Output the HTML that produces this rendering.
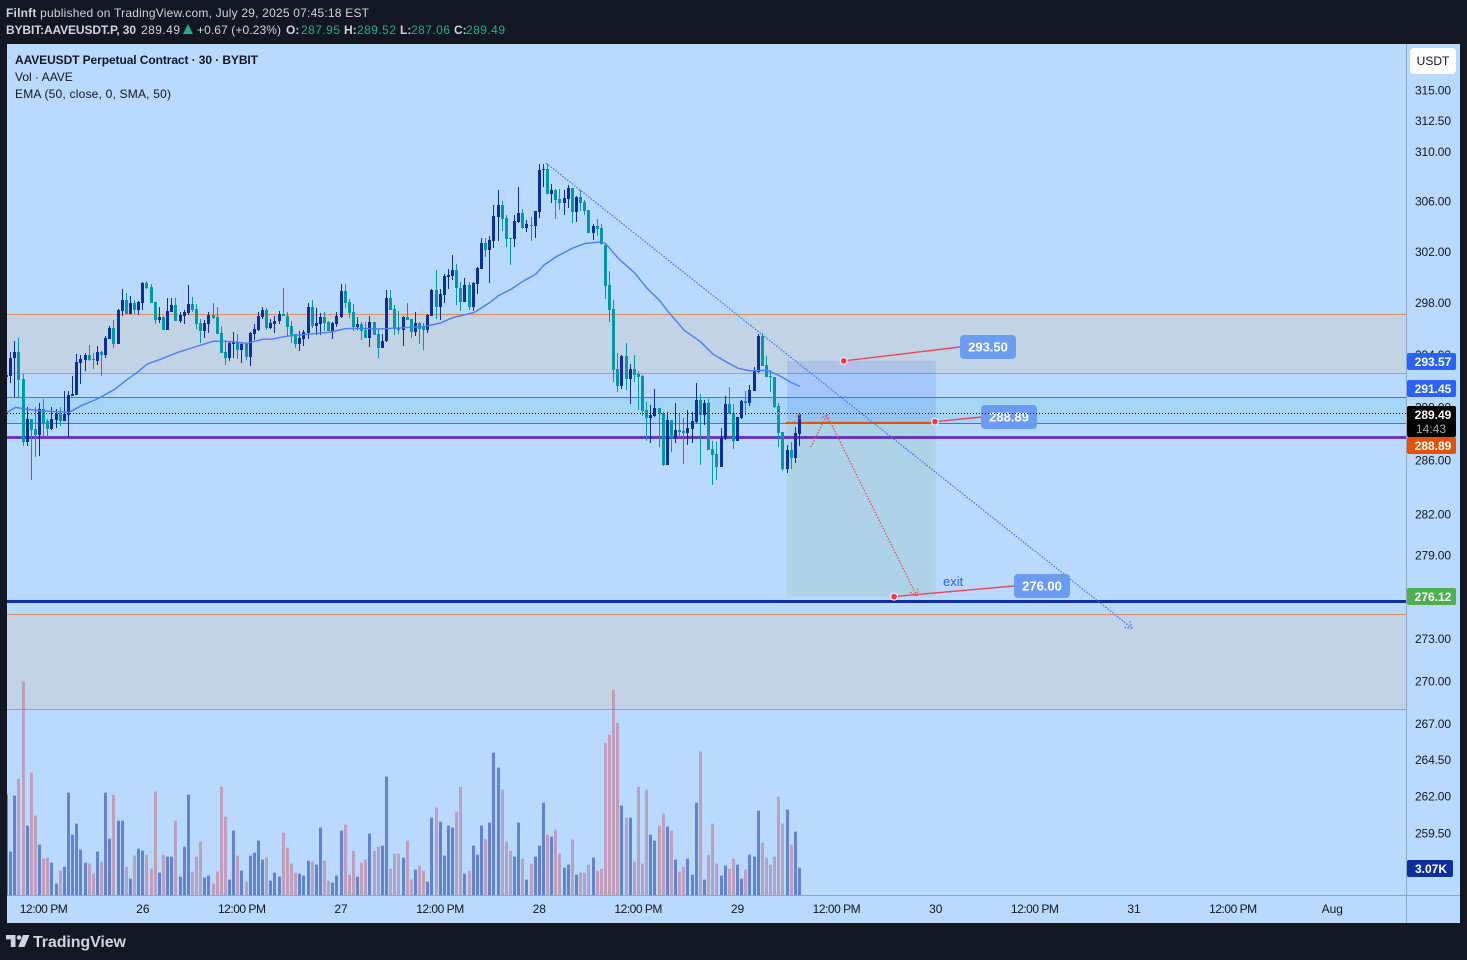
<!DOCTYPE html>
<html lang="en">
<head>
<meta charset="utf-8">
<title>AAVEUSDT Perpetual Contract chart</title>
<style>
html,body{margin:0;padding:0;background:#131722;width:1467px;height:960px;overflow:hidden}
svg{display:block;font-family:"Liberation Sans",Arial,sans-serif}
text{font-size:12px}
</style>
</head>
<body>
<svg id="root" width="1467" height="960" viewBox="0 0 1467 960" xmlns="http://www.w3.org/2000/svg">
  <defs><clipPath id="plot-clip"><rect x="7" y="44" width="1399" height="851"/></clipPath></defs>
  <rect x="0" y="0" width="1467" height="960" fill="#131722"/>
  <g>
    <text x="6" y="17" fill="#d1d4dc" textLength="363"><tspan font-weight="bold">Filnft</tspan> published on TradingView.com, July 29, 2025 07:45:18 EST</text>
    <text x="6" y="34" fill="#d1d4dc" font-weight="bold" textLength="130">BYBIT:AAVEUSDT.P, 30</text>
    <text x="141" y="34" fill="#d1d4dc" textLength="39">289.49</text>
    <path d="M183 34l5-10 5 10z" fill="#22ab94"/>
    <text x="197" y="34" fill="#d1d4dc" textLength="84">+0.67 (+0.23%)</text>
    <text x="286" y="34" fill="#d1d4dc" font-weight="bold">O:</text>
    <text x="301" y="34" fill="#22ab94" textLength="39">287.95</text>
    <text x="344" y="34" fill="#d1d4dc" font-weight="bold">H:</text>
    <text x="357" y="34" fill="#22ab94" textLength="39">289.52</text>
    <text x="400" y="34" fill="#d1d4dc" font-weight="bold">L:</text>
    <text x="411" y="34" fill="#22ab94" textLength="39">287.06</text>
    <text x="454" y="34" fill="#d1d4dc" font-weight="bold">C:</text>
    <text x="466" y="34" fill="#22ab94" textLength="39">289.49</text>
  </g>
  <rect x="7" y="44" width="1453" height="879" fill="#b9d9fe"/>
  <g id="zones"></g>
  <g id="position"></g>
  <g id="levels"></g>
  <g id="volumes" clip-path="url(#plot-clip)"></g>
  <g id="candles" clip-path="url(#plot-clip)"></g>
  <path id="ema" fill="none" stroke="#4a7ef5" stroke-width="1.4" clip-path="url(#plot-clip)"/>
  <g id="drawings"></g>
  <line id="last-line" stroke="#000" stroke-width="1" stroke-dasharray="1 2"/>
  <g>
    <text x="15" y="64" fill="#131722" font-weight="bold" textLength="243">AAVEUSDT Perpetual Contract · 30 · BYBIT</text>
    <text x="15" y="81" fill="#131722">Vol · AAVE</text>
    <text x="15" y="98" fill="#131722" textLength="156">EMA (50, close, 0, SMA, 50)</text>
  </g>
  <line x1="1406.5" y1="44" x2="1406.5" y2="923" stroke="#8fa8c6"/>
  <line x1="7" y1="895.5" x2="1460" y2="895.5" stroke="#8fa8c6"/>
  <g id="price-axis"></g>
  <g id="time-axis"></g>
  <g>
    <rect x="1407" y="353" width="49" height="17" rx="2" fill="#2962ff"/>
    <text x="1433" y="366" fill="#fff" font-weight="bold" text-anchor="middle">293.57</text>
    <rect x="1407" y="380" width="49" height="17" rx="2" fill="#2962ff"/>
    <text x="1433" y="393" fill="#fff" font-weight="bold" text-anchor="middle">291.45</text>
    <rect x="1407" y="406" width="49" height="31" rx="2" fill="#000"/>
    <text x="1433" y="419" fill="#fff" font-weight="bold" text-anchor="middle">289.49</text>
    <text x="1431" y="433" fill="#aaa" text-anchor="middle">14:43</text>
    <rect x="1407" y="437" width="49" height="17" rx="2" fill="#e65100"/>
    <text x="1433" y="450" fill="#fff" font-weight="bold" text-anchor="middle">288.89</text>
    <rect x="1407" y="588" width="49" height="17" rx="2" fill="#4caf50"/>
    <text x="1433" y="601" fill="#fff" font-weight="bold" text-anchor="middle">276.12</text>
    <rect x="1407" y="860" width="46" height="17" rx="2" fill="#0d2f9b"/>
    <text x="1431" y="873" fill="#fff" font-weight="bold" text-anchor="middle">3.07K</text>
  </g>
  <g>
    <rect x="1410" y="48" width="46" height="26" rx="4" fill="#fff"/>
    <text x="1433" y="65" fill="#131722" text-anchor="middle">USDT</text>
  </g>
  <g>
    <path d="M6 935h9.5v12h-4.7v-7.6H6zM23 935h6.5l-5 12h-6.300z" fill="#d1d4dc"/>
    <circle cx="19" cy="937.500" r="2.300" fill="#d1d4dc"/>
    <text x="33" y="947" fill="#d1d4dc" font-weight="bold" textLength="93" style="font-size:16px">TradingView</text>
  </g>
</svg>
<script>
const opens=[
292.29,292.36,293.74,294.20,292.14,287.34,289.07,288.31,287.85,289.84,
288.92,288.31,289.00,289.51,288.92,289.38,290.83,290.91,293.36,293.59,
293.97,293.67,293.51,294.20,293.97,295.20,296.04,294.81,297.34,298.18,
297.11,297.95,297.41,297.95,299.56,299.25,298.03,296.65,296.88,295.88,
297.26,297.80,296.57,296.95,297.18,297.87,297.49,296.42,295.81,296.34,
297.03,296.88,295.65,294.20,293.74,294.81,294.97,294.35,294.81,293.82,
295.58,295.88,296.88,297.41,296.04,296.34,296.57,297.14,296.98,296.20,
295.57,294.78,295.18,295.65,297.69,296.20,296.35,296.91,296.51,295.80,
296.35,296.91,298.87,298.08,297.30,296.12,296.35,295.88,295.25,296.51,
295.57,294.47,295.02,298.40,297.53,296.04,295.88,296.91,296.75,295.73,
296.43,296.12,295.88,296.98,298.95,297.69,298.63,299.97,300.05,300.52,
299.18,298.08,299.34,297.69,299.42,300.60,302.64,302.09,302.80,304.77,
305.71,304.69,303.04,302.96,304.37,305.08,303.90,304.11,303.98,305.16,
308.46,308.54,306.57,306.89,306.18,305.87,306.18,307.04,305.16,306.34,
305.94,305.32,303.43,303.98,303.90,302.55,299.34,297.50,292.91,291.61,
293.91,292.15,292.91,292.53,292.38,289.78,289.17,289.32,289.93,289.55,
285.65,289.01,287.64,288.25,288.17,288.02,288.32,288.86,290.54,289.39,
290.31,286.87,286.49,285.49,287.56,290.24,289.55,287.41,289.17,290.47,
290.31,291.23,292.68,295.44,293.22,292.38,292.30,290.08,288.09,285.34,
286.79,286.18,287.95];
const highs=[
292.44,294.20,295.04,295.27,292.52,289.97,289.07,289.97,290.27,290.60,
289.07,289.97,289.84,289.97,291.22,291.22,292.36,294.05,293.97,294.12,
294.74,294.12,294.66,294.28,295.42,296.19,296.65,297.49,299.10,298.79,
298.48,298.18,298.10,299.63,299.71,299.48,298.03,297.64,296.95,298.33,
298.33,298.33,297.26,297.41,299.40,298.41,297.87,296.73,296.65,297.26,
297.95,297.64,296.19,295.12,294.97,295.73,295.58,294.97,294.89,295.73,
296.34,297.26,297.64,297.57,296.73,296.95,297.34,299.18,297.27,296.59,
295.57,295.80,295.88,298.01,298.24,297.61,297.22,297.30,296.59,296.51,
297.30,299.42,299.42,298.32,297.93,296.91,296.51,296.51,296.98,296.51,
295.96,295.57,298.95,298.95,297.85,297.38,296.98,298.01,296.75,297.30,
296.51,296.43,297.14,299.03,300.52,299.03,300.21,300.60,301.70,300.99,
299.58,299.89,299.58,299.58,300.76,303.04,303.04,303.19,305.71,306.89,
306.02,304.92,303.04,304.92,307.12,305.39,304.53,304.77,305.24,309.01,
309.01,309.01,307.36,306.97,306.97,306.89,307.28,307.04,306.42,306.89,
306.10,305.32,304.14,304.61,304.14,302.68,300.49,298.19,294.14,293.98,
294.90,293.30,293.98,292.76,292.45,290.39,290.16,291.38,289.93,289.62,
289.62,289.01,290.31,289.55,289.17,289.78,289.62,291.84,291.00,290.54,
290.62,287.41,287.33,288.40,290.85,291.54,290.24,289.24,290.54,291.23,
291.69,293.07,295.59,295.67,293.91,292.84,292.30,290.31,288.09,287.10,
287.33,288.48,289.52];
const lows=[
292.29,291.83,290.76,290.76,287.03,287.09,284.49,286.27,286.32,287.75,
287.75,288.23,288.41,288.57,288.92,287.75,290.83,290.91,291.75,292.70,
293.51,292.90,293.16,292.36,293.74,295.20,294.51,294.81,296.95,297.11,
297.11,297.11,297.03,297.41,299.10,297.95,296.34,296.42,295.88,295.88,
297.26,296.57,296.42,296.34,297.03,297.26,295.96,294.89,295.27,295.65,
296.73,295.58,294.12,293.21,293.51,293.74,293.67,293.36,293.59,293.13,
295.12,295.81,296.73,295.88,295.96,295.65,296.34,296.93,295.44,294.91,
294.47,294.23,294.63,295.18,296.04,295.49,295.52,295.80,295.80,295.18,
296.12,296.83,297.61,296.83,295.80,295.88,295.10,295.25,294.55,295.49,
293.76,294.47,294.94,297.46,295.49,295.57,294.63,296.67,295.25,295.41,
294.78,294.31,295.65,296.98,296.75,296.67,298.01,299.03,299.73,297.85,
297.38,298.08,297.46,297.38,298.71,300.60,301.54,299.50,302.25,302.80,
303.66,302.33,300.91,302.33,304.29,303.82,303.51,302.80,303.04,304.69,
307.12,306.57,305.87,304.61,305.32,304.92,305.47,304.29,304.37,305.24,
304.92,303.43,302.88,303.19,302.49,298.27,296.51,291.92,291.15,291.38,
291.31,290.24,291.92,289.78,289.32,287.41,287.25,289.24,286.95,285.57,
285.65,286.64,287.25,287.64,285.72,287.10,287.25,288.78,285.65,288.63,
286.79,284.12,284.50,285.49,287.48,289.47,286.87,287.41,289.09,289.39,
290.08,291.23,292.61,293.14,292.30,291.15,289.93,286.95,285.19,285.03,
285.34,285.80,287.06];
const closes=[
292.44,293.74,294.20,292.06,287.34,289.07,288.23,287.85,289.84,288.77,
288.31,289.07,289.46,288.92,289.46,290.91,290.99,293.44,293.67,293.97,
293.59,293.62,294.20,293.97,295.27,296.04,294.81,297.41,298.18,297.11,
297.95,297.41,298.03,299.56,299.17,297.95,296.65,296.88,295.88,297.34,
297.80,296.57,297.03,297.26,297.87,297.41,296.34,295.81,296.42,297.03,
296.80,295.58,294.12,293.74,294.89,294.97,294.35,294.81,293.82,295.65,
295.96,296.95,297.41,296.04,296.42,296.57,297.11,296.93,296.12,295.49,
294.78,295.25,295.73,297.69,296.20,296.43,296.91,296.43,295.80,296.43,
296.98,298.87,298.01,297.22,296.12,296.35,295.80,295.25,296.51,295.49,
294.47,295.02,298.40,297.46,295.96,295.88,296.91,296.67,295.73,296.43,
295.96,295.88,297.06,298.95,297.69,298.71,300.05,300.13,300.52,299.11,
298.08,299.34,297.69,299.50,300.68,302.64,302.09,302.88,304.84,305.71,
304.61,302.96,302.98,304.45,305.08,303.90,304.14,304.06,305.24,308.46,
308.54,306.57,306.89,306.10,305.87,306.26,307.04,305.16,306.34,305.87,
305.24,303.43,303.98,303.82,302.56,299.26,297.43,292.84,291.61,293.91,
292.15,292.91,292.45,292.30,289.70,289.17,289.39,289.93,289.47,285.65,
289.01,287.64,288.25,288.09,288.02,288.40,288.94,290.54,289.39,290.31,
286.79,286.41,285.49,287.64,290.24,289.47,287.41,289.24,290.47,290.31,
291.31,292.76,295.44,293.14,292.30,292.30,290.01,288.02,285.34,286.79,
286.18,288.02,289.49];
const volumesK=[
11.29,4.88,11.18,13.09,24.00,7.80,13.76,8.93,5.66,4.09,
4.20,3.64,1.28,2.74,3.19,11.51,6.79,8.03,5.10,3.64,
3.53,2.40,4.88,3.75,11.51,6.34,11.29,8.36,8.36,3.19,
1.84,4.43,5.21,4.99,4.54,2.96,11.63,2.51,4.54,4.31,
4.31,8.36,2.06,5.44,11.29,2.63,4.31,6.00,1.95,2.18,
1.28,2.63,12.19,8.81,1.73,7.24,4.43,2.74,1.50,4.43,
4.76,6.11,3.98,4.20,1.61,2.51,2.06,7.01,5.33,3.53,
2.51,2.40,2.18,3.86,3.75,3.41,7.58,3.86,1.61,1.39,
2.18,7.24,7.91,2.29,4.99,2.06,3.64,3.98,6.90,4.99,
5.44,5.55,13.31,2.96,4.65,4.65,4.20,6.11,1.73,2.85,
3.30,2.74,1.50,8.70,9.83,8.25,4.43,7.80,7.58,9.38,
12.19,2.40,2.74,5.55,4.54,7.80,6.34,8.14,16.01,14.33,
11.85,6.00,4.99,4.31,8.14,4.09,1.73,3.53,4.31,5.55,
10.39,6.79,6.56,7.35,4.65,3.08,3.41,6.23,2.29,2.51,
2.51,3.41,4.20,2.74,2.96,17.14,18.04,23.10,19.39,10.05,
8.70,8.70,3.75,12.19,3.53,11.85,6.79,6.11,7.80,9.15,
7.69,7.24,3.98,2.63,3.19,4.09,2.29,10.39,16.13,1.73,
4.54,8.03,3.53,2.18,3.30,2.96,4.09,3.41,1.84,2.85,
4.54,4.31,9.49,5.89,4.20,3.41,4.31,11.06,8.03,9.60,
5.66,7.13,3.07];
const emaBars=[0,2,4,8,12,15,18,22,26,29,32,34,37,41,46,50,54,58,62,64,68,72,78,82,86,90,95,101,105,108,113,117,119,122,125,128,130,133,137,140,144,145,148,152,155,158,160,164,168,171,174,177,180,184,187,190,192];
const emaValues=[289.59,289.97,289.87,289.71,289.64,289.59,290.10,290.63,291.32,292.06,292.75,293.28,293.61,294.12,294.63,295.02,294.99,294.86,295.17,295.17,295.41,295.54,295.70,295.99,296.01,295.96,296.04,296.15,296.43,296.85,297.22,298.03,298.55,299.03,299.68,300.21,300.94,301.60,302.28,302.64,302.77,302.60,301.46,300.31,299.11,298.17,297.33,295.85,294.95,294.01,293.45,292.94,292.74,292.79,292.38,291.84,291.56];
const priceTicks=[315,312.5,310,306,302,298,294,290,286,282,279,273,270,267,264.5,262,259.5];
const timeBars=[9,33,57,81,105,129,153,177,201,225,249,273,297,321];
const timeLabels=["12:00 PM","26","12:00 PM","27","12:00 PM","28","12:00 PM","29","12:00 PM","30","12:00 PM","31","12:00 PM","Aug"];
const lastPrice=289.49;
const zoneUpper=[297.08,292.54];
const zoneLower=[274.73,268.00];
const bandLevels=[290.71,288.75];
const purpleLevel=287.67;
const navyLevel=275.65;
const positionBars=[189.0,225.0];
const positionPrices=[293.50,288.80,276.00];

const NS='http://www.w3.org/2000/svg';
const X0=6.54,BAR=4.13,Y0=90,LOGK=3833,TOP=315,VOLBASE=895,VOLK=8.889,PLOTL=7,PLOTR=1406;
function xScale(i){return X0+BAR*i;}
function yScale(p){return Y0+LOGK*Math.log(TOP/p);}
function vScale(v){return v*VOLK;}
function crisp(y){return Math.floor(y)+0.5;}
function make(tag,parent,attrs){const el=document.createElementNS(NS,tag);for(const k in attrs)el.setAttribute(k,attrs[k]);parent.appendChild(el);return el;}
const gZones=document.getElementById('zones'),gPos=document.getElementById('position'),gLevels=document.getElementById('levels'),gVol=document.getElementById('volumes'),gCandles=document.getElementById('candles'),gDraw=document.getElementById('drawings'),gPrice=document.getElementById('price-axis'),gTime=document.getElementById('time-axis');
let el;

/* zones */
[zoneUpper,zoneLower].forEach(function(z){
  const a=crisp(yScale(z[0])),b=crisp(yScale(z[1]));
  el=make('rect',gZones,{x:PLOTL,y:a,width:PLOTR-PLOTL,height:b-a,fill:'#c1d3e5'});
  
  
  z.forEach(function(p){
    el=make('line',gZones,{x1:PLOTL,x2:PLOTR,y1:crisp(yScale(p)),y2:crisp(yScale(p)),stroke:'#e08c66',"stroke-width":1});
    
    
  });
});
const bandA=crisp(yScale(bandLevels[0])),bandB=crisp(yScale(bandLevels[1]));
el=make('rect',gZones,{x:PLOTL,y:bandA,width:PLOTR-PLOTL,height:bandB-bandA,fill:'#a5d5f7'});


bandLevels.forEach(function(p){
  el=make('line',gZones,{x1:PLOTL,x2:PLOTR,y1:crisp(yScale(p)),y2:crisp(yScale(p)),stroke:'#4a78c0',"stroke-width":1});
  
  
});

/* position box */
const pl=xScale(positionBars[0]),pr=xScale(positionBars[1]);
const pT=yScale(positionPrices[0]),pM=yScale(positionPrices[1]),pB=yScale(positionPrices[2]);
el=make('rect',gPos,{x:pl,y:pT,width:pr-pl,height:pM-pT,fill:'rgba(60,100,240,.15)'});


el=make('rect',gPos,{x:pl,y:pM,width:pr-pl,height:pB-pM,fill:'rgba(130,187,134,.2)'});



/* levels */
el=make('line',gLevels,{x1:PLOTL,x2:PLOTR,y1:crisp(yScale(purpleLevel)),y2:crisp(yScale(purpleLevel)),stroke:'#673ab7',"stroke-width":3});


el=make('line',gLevels,{x1:PLOTL,x2:PLOTR,y1:crisp(yScale(navyLevel)),y2:crisp(yScale(navyLevel)),stroke:'#0d2f9b',"stroke-width":3});


el=make('line',gLevels,{x1:pl-1,x2:pr,y1:pM,y2:pM,stroke:'#e65100',"stroke-width":2});



/* volumes */
volumesK.forEach(function(v,i){
  const h=vScale(v);
  el=make('rect',gVol,{x:Math.floor(xScale(i))-1,y:VOLBASE-h,width:3,height:h,fill:closes[i]>=opens[i]?'rgba(13,47,155,.5)':'rgba(193,103,126,.5)'});
  
  
});

/* candles */
opens.forEach(function(o,i){
  const c=closes[i],up=c>=o,col=up?'#0d2f9b':'#0097a7',x=Math.floor(xScale(i));
  const yh=Math.round(yScale(highs[i])),yl=Math.round(yScale(lows[i]));
  const yt=Math.round(yScale(Math.max(o,c))),yb=Math.round(yScale(Math.min(o,c)));
  el=make('rect',gCandles,{x:x,y:yh,width:1,height:Math.max(1,yl-yh),fill:col});
  
  
  el=make('rect',gCandles,{x:x-1,y:yt,width:3,height:Math.max(1,yb-yt),fill:col});
  
  
});

/* EMA */
document.getElementById('ema').setAttribute('d',emaBars.map(function(b,i){return (i?'L':'M')+(xScale(b)+0.5).toFixed(2)+' '+yScale(emaValues[i]).toFixed(2);}).join(' '));

/* drawings */
function dotted(x1,y1,x2,y2,col,name){
  const e=make('line',gDraw,{x1:x1,y1:y1,x2:x2,y2:y2,stroke:col,"stroke-width":1.3,"stroke-dasharray":"1.5 1.5"});
  
  
}
function arrowHead(x1,y1,x2,y2,col,size,name){
  const a=Math.atan2(y2-y1,x2-x1);
  [-0.6,0.6].forEach(function(d){
    dotted(x2,y2,x2-size*Math.cos(a+d),y2-size*Math.sin(a+d),col,name);
  });
}
const trendA=[130.6,309.06],trendB=[272.5,273.74];
const tx1=xScale(trendA[0]),ty1=yScale(trendA[1]),tx2=xScale(trendB[0]),ty2=yScale(trendB[1]);
dotted(tx1,ty1,tx2,ty2,'#3f78f5','trend-line');
arrowHead(tx1,ty1,tx2,ty2,'#3f78f5',8,'trend-line-arrow');
const pathBars=[194.8,198.6,220.4],pathPrices=[286.98,289.4,276.05];
const rx=pathBars.map(xScale),ry=pathPrices.map(yScale);
dotted(rx[0],ry[0],rx[1],ry[1],'#f0485f','projection-up');
arrowHead(rx[0],ry[0],rx[1],ry[1],'#f0485f',7,'projection-up-arrow');
dotted(rx[1],ry[1],rx[2],ry[2],'#f0485f','projection-down');
arrowHead(rx[1],ry[1],rx[2],ry[2],'#f0485f',8,'projection-down-arrow');
const ox=xScale(192),oy=yScale(289.45);
arrowHead(ox-6,oy+12,ox,oy,'#e6762a',6,'entry-arrow');

const calloutBars=[202.7,224.8,214.9];
const calloutPrices=[293.50,288.89,276.00];
const calloutText=["293.50","288.89","276.00"];
const calloutBoxX=[960,981,1014];
const calloutBoxY=[335,405,574];
calloutBars.forEach(function(b,i){
  const x=xScale(b),y=yScale(calloutPrices[i]),bx=calloutBoxX[i],by=calloutBoxY[i];
  el=make('line',gDraw,{x1:x,y1:y,x2:bx,y2:by+12,stroke:'#f0455f',"stroke-width":1.4});
  
  
  el=make('circle',gDraw,{cx:x,cy:y,r:3.4,fill:'#f23645',stroke:'#e8eefc',"stroke-width":1.2});
  
  
  el=make('rect',gDraw,{x:bx,y:by,width:56,height:24,rx:4,fill:'#6a9df2'});
  
  
  el=make('text',gDraw,{x:bx+28,y:by+16.5,fill:'#fff',"font-weight":'bold',"text-anchor":'middle',style:'font-size:13px'});
  el.textContent=calloutText[i];
  
  
});
el=make('text',gDraw,{x:943,y:586,fill:'#2962ff',style:'font-size:13px'});
el.textContent='exit';



/* last price line */
const lastLine=document.getElementById('last-line');
lastLine.setAttribute('x1',PLOTL);
lastLine.setAttribute('x2',PLOTR);
lastLine.setAttribute('y1',crisp(yScale(lastPrice)));
lastLine.setAttribute('y2',crisp(yScale(lastPrice)));

/* axes */
priceTicks.forEach(function(p){
  el=make('text',gPrice,{x:1415,y:yScale(p)+4.5,fill:'#131722',textLength:36});
  el.textContent=p.toFixed(2);
  
  
});
timeBars.forEach(function(b,i){
  el=make('text',gTime,{x:xScale(b),y:913,fill:'#131722',"text-anchor":'middle'});
  el.textContent=timeLabels[i];
  if(timeLabels[i].length>3)el.setAttribute('textLength',48);
  
  
});
</script>
</body>
</html>
